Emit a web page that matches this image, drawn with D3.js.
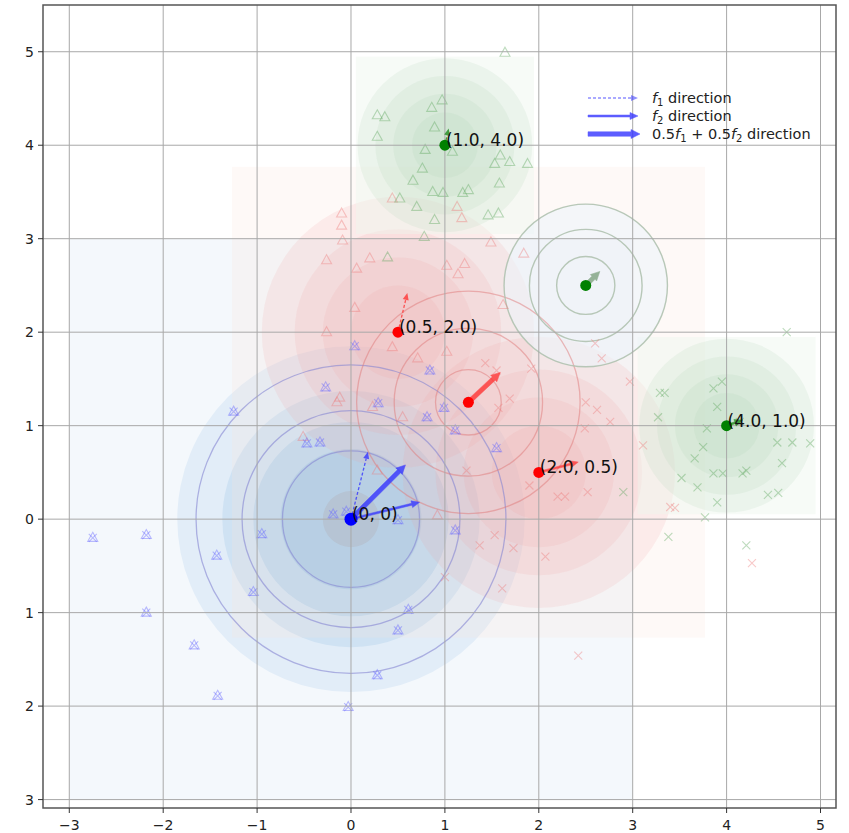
<!DOCTYPE html>
<html>
<head>
<meta charset="utf-8">
<script src="https://cdn.jsdelivr.net/npm/d3@7"></script>
<style>
  body { margin: 0; background: #fff; }
  text { font-family: "DejaVu Sans", sans-serif; }
</style>
</head>
<body>
<div id="chart"></div>
<script>
// ---- data ----
var xTicks = [-3, -2, -1, 0, 1, 2, 3, 4, 5];
var xTickLabels = ["\u22123", "\u22122", "\u22121", "0", "1", "2", "3", "4", "5"];
var yTicks = [-3, -2, -1, 0, 1, 2, 3, 4, 5];
var yTickLabels = ["3", "2", "1", "0", "1", "2", "3", "4", "5"]; // minus signs are missing in the picture

// labelled centres
var centres = [
  {x: 0, y: 0, label: "(0, 0)", cls: "blue"},
  {x: 0.5, y: 2.0, label: "(0.5, 2.0)", cls: "red"},
  {x: 2.0, y: 0.5, label: "(2.0, 0.5)", cls: "red"},
  {x: 1.0, y: 4.0, label: "(1.0, 4.0)", cls: "green"},
  {x: 4.0, y: 1.0, label: "(4.0, 1.0)", cls: "green"}
];
// midpoints (no label)
var mids = [
  {x: 1.25, y: 1.25, cls: "red"},
  {x: 2.5, y: 2.5, cls: "green"}
];

// filled density levels (radii) per component
var blueFillRadii = [1.85, 1.37, 1.04, 0.75, 0.3];
var redFillRadii = [1.45, 1.1, 0.8, 0.5];
var greenFillRadii = [0.93, 0.74, 0.55, 0.35];
var midFillRadii = [0.87];

// contour lines (radii)
var blueLineRadii = [0.73, 1.16, 1.65];
var redLineRadii = [0.35, 0.79, 1.19];
var greenLineRadii = [0.31, 0.6, 0.87];

// direction arrows [x0, y0, x1, y1]
var f1Arrows = [
  {cls: "blue", p: [0, 0, 0.18, 0.72]},
  {cls: "red", p: [0.5, 2.0, 0.6, 2.42]},
  {cls: "green", p: [1.0, 4.0, 1.04, 4.18]}
];
var f2Arrows = [
  {cls: "blue", p: [0, 0, 0.73, 0.18]},
  {cls: "red", p: [2.0, 0.5, 2.42, 0.61]},
  {cls: "green", p: [4.0, 1.0, 4.17, 1.06]}
];
var mixArrows = [
  {cls: "blue", p: [0, 0, 0.58, 0.58]},
  {cls: "red", p: [1.25, 1.25, 1.59, 1.57]},
  {cls: "greenmid", p: [2.5, 2.5, 2.65, 2.65]}
];

// scatter samples
var bluePts = [[-2.75,-0.2],[-2.18,-0.17],[-2.18,-1.0],[-1.67,-1.35],[-1.42,-1.89],[-1.43,-0.39],
  [-1.25,1.15],[-0.95,-0.16],[-1.04,-0.78],[-0.47,0.81],[-0.33,0.82],[-0.27,1.41],[0.04,1.85],
  [-0.19,0.05],[-0.05,0.08],[0.29,1.24],[0.5,-0.01],[0.84,1.59],[0.81,1.09],[0.99,1.19],
  [1.11,0.95],[1.55,0.76],[1.11,-0.12],[0.61,-0.97],[0.5,-1.19],[0.28,-1.67],[-0.03,-2.01]];
var redTri = [[-0.1,3.27],[-0.1,3.14],[-0.09,2.98],[-0.26,2.77],[0.06,2.68],[0.2,2.79],[0.44,3.43],
  [1.13,3.34],[1.18,3.22],[1.49,2.96],[1.84,2.84],[1.02,2.71],[1.21,2.73],[1.14,2.62],[0.04,2.26],
  [0.44,1.84],[1.02,1.79],[0.71,1.72],[1.62,2.29],[-0.26,2.0],[-0.15,1.25],[-0.12,1.3],[0.23,1.2],
  [0.55,1.09],[-0.51,0.88],[0.28,0.52],[0.92,0.04]];
var redX = [[1.43,1.67],[1.55,1.59],[1.92,1.61],[1.69,1.29],[1.57,1.19],[2.5,1.25],[2.62,1.17],
  [2.76,1.04],[2.49,0.97],[2.6,1.88],[2.67,1.72],[2.97,1.47],[3.11,0.79],[1.9,0.36],[2.2,0.24],
  [2.52,0.29],[2.28,0.24],[1.37,-0.28],[1.53,-0.17],[1.73,-0.31],[2.07,-0.4],[1.61,-0.74],
  [1.0,-0.62],[1.23,0.52],[2.42,-1.46],[3.4,0.13],[3.45,0.12],[4.27,-0.47]];
var greenTri = [[1.64,4.99],[0.28,4.32],[0.36,4.3],[0.86,4.4],[0.97,4.48],[0.89,4.19],[0.28,4.09],
  [0.79,3.95],[1.08,3.93],[1.59,3.89],[1.53,3.8],[1.69,3.82],[1.88,3.8],[0.76,3.75],[0.66,3.62],
  [1.58,3.59],[0.87,3.5],[0.98,3.49],[1.19,3.49],[1.25,3.52],[0.52,3.43],[0.7,3.34],[0.89,3.2],
  [1.46,3.25],[1.57,3.27],[0.78,3.02],[0.39,2.8]];
var greenX = [[4.64,2.0],[3.29,1.35],[3.34,1.35],[3.27,1.09],[3.86,1.4],[3.95,1.47],[3.9,1.2],
  [3.79,0.97],[3.75,0.77],[3.66,0.65],[4.14,1.04],[4.54,0.82],[4.7,0.82],[4.89,0.81],[4.59,0.6],
  [3.86,0.49],[3.96,0.49],[4.17,0.49],[4.21,0.52],[3.52,0.44],[3.69,0.34],[3.9,0.18],[4.44,0.26],
  [4.55,0.28],[3.77,0.02],[3.38,-0.19],[4.21,-0.28],[2.9,0.29]];

var legendItems = ["f1", "f2", "mix"];

// ---- drawing ----
var W = 849, H = 833;
var svg = d3.select("#chart").append("svg")
    .attr("width", W)
    .attr("height", H);

var x = d3.scaleLinear().domain([-3.28, 5.165]).range([43, 836]);
var y = d3.scaleLinear().domain([-3.09, 5.5]).range([808, 5]);
var rx = function(r) { return x(r) - x(0); };
var ry = function(r) { return y(0) - y(r); };

var colors = {
  blue: "#3535ff", red: "#ff3535", green: "#1f8a1f", greenmid: "#7fa37f"
};

svg.append("clipPath").attr("id", "plotclip")
  .append("rect").attr("x", 43).attr("y", 5).attr("width", 793).attr("height", 803);

var plot = svg.append("g").attr("clip-path", "url(#plotclip)");

function boxClip(id, x0, x1, y0, y1) {
  svg.append("clipPath").attr("id", id)
    .append("rect")
    .attr("x", x(x0)).attr("y", y(y1))
    .attr("width", x(x1) - x(x0)).attr("height", y(y0) - y(y1));
}
boxClip("bluebox", -3, 3, -3, 3);
boxClip("redbox", -1.27, 3.77, -1.27, 3.77);
boxClip("greenbox1", 0.05, 1.95, 3.05, 4.95);
boxClip("greenbox2", 3.05, 4.95, 0.05, 1.95);

function ellipse(g, cx, cy, r) {
  return g.append("ellipse")
    .attr("cx", x(cx)).attr("cy", y(cy))
    .attr("rx", rx(r)).attr("ry", ry(r));
}

// blue density
var gBlue = plot.append("g").attr("clip-path", "url(#bluebox)");
gBlue.append("rect").attr("x", x(-3)).attr("y", y(3))
  .attr("width", x(3) - x(-3)).attr("height", y(-3) - y(3)).attr("fill", "#f4f8fc");
var blueCols = ["#e2edf8", "#cfe2f3", "#bad6ed", "#a6cae7", "#a3bbd2"];
blueFillRadii.forEach(function(r, i) {
  ellipse(gBlue, 0, 0, r).attr("fill", blueCols[i]);
});

// red density
var gRed = plot.append("g").attr("clip-path", "url(#redbox)");
gRed.append("rect").attr("x", x(-1.27)).attr("y", y(3.77))
  .attr("width", x(3.77) - x(-1.27)).attr("height", y(-1.27) - y(3.77))
  .attr("fill", "#fbe3da").attr("opacity", 0.22);
[[0.5, 2.0], [2.0, 0.5]].forEach(function(c) {
  redFillRadii.forEach(function(r) {
    ellipse(gRed, c[0], c[1], r).attr("fill", "#f29a9a").attr("opacity", 0.14);
  });
});

// green density
[["greenbox1", 1.0, 4.0], ["greenbox2", 4.0, 1.0]].forEach(function(c) {
  var g = plot.append("g").attr("clip-path", "url(#" + c[0] + ")");
  g.append("rect").attr("x", x(c[1] - 0.95)).attr("y", y(c[2] + 0.95))
    .attr("width", rx(1.9)).attr("height", ry(1.9))
    .attr("fill", "#eef6ee").attr("opacity", 0.45);
  greenFillRadii.forEach(function(r) {
    ellipse(g, c[1], c[2], r).attr("fill", "#a9d2b0").attr("opacity", 0.15);
  });
});

// faint fill at the green midpoint
midFillRadii.forEach(function(r) {
  ellipse(plot, 2.5, 2.5, r).attr("fill", "#edf3fa").attr("opacity", 0.6);
});

// grid
var grid = svg.append("g");
grid.selectAll("line.gx").data(xTicks).enter().append("line")
  .attr("x1", function(d) { return x(d); }).attr("x2", function(d) { return x(d); })
  .attr("y1", 5).attr("y2", 808)
  .attr("stroke", "#a8a8a8").attr("stroke-width", 1);
grid.selectAll("line.gy").data(yTicks).enter().append("line")
  .attr("y1", function(d) { return y(d); }).attr("y2", function(d) { return y(d); })
  .attr("x1", 43).attr("x2", 836)
  .attr("stroke", "#a8a8a8").attr("stroke-width", 1);

// contour lines
blueLineRadii.forEach(function(r) {
  ellipse(plot, 0, 0, r).attr("fill", "none").attr("stroke", "#8585d2")
    .attr("stroke-opacity", 0.6).attr("stroke-width", 1.3);
});
redLineRadii.forEach(function(r) {
  ellipse(plot, 1.25, 1.25, r).attr("fill", "none").attr("stroke", "#e07a7a")
    .attr("stroke-opacity", 0.5).attr("stroke-width", 1.3);
});
greenLineRadii.forEach(function(r) {
  ellipse(plot, 2.5, 2.5, r).attr("fill", "none").attr("stroke", "#b0c2b0")
    .attr("stroke-opacity", 0.9).attr("stroke-width", 1.4);
});

// markers
var triPath = "M0,-5.5L5,3.5L-5,3.5Z";
var xPath = "M-4,-4L4,4M-4,4L4,-4";
function markers(pts, path, col, op) {
  plot.append("g").selectAll("path").data(pts).enter().append("path")
    .attr("d", path)
    .attr("transform", function(d) { return "translate(" + x(d[0]) + "," + y(d[1]) + ")"; })
    .attr("fill", "none").attr("stroke", col).attr("stroke-width", 1.1)
    .attr("stroke-opacity", op);
}
markers(redTri, triPath, "#ee7878", 0.4);
markers(redX, xPath, "#ee7878", 0.4);
markers(greenTri, triPath, "#5aa55a", 0.4);
markers(greenX, xPath, "#5aa55a", 0.4);
markers(bluePts, triPath, "#6a6aff", 0.45);
markers(bluePts, xPath, "#6a6aff", 0.45);

// arrows
function arrowShape(g, x0, y0, x1, y1, col, op, w, hl, hw, dashed) {
  var dx = x1 - x0, dy = y1 - y0;
  var len = Math.sqrt(dx * dx + dy * dy);
  var ux = dx / len, uy = dy / len, nx = -uy, ny = ux;
  var bx = x1 - ux * hl, by = y1 - uy * hl;
  if (dashed) {
    g.append("line").attr("x1", x0).attr("y1", y0).attr("x2", bx).attr("y2", by)
      .attr("stroke", col).attr("stroke-width", w).attr("stroke-dasharray", "3,2")
      .attr("opacity", op);
    g.append("path")
      .attr("d", "M" + (bx + nx * hw / 2) + "," + (by + ny * hw / 2) + "L" + x1 + "," + y1 +
        "L" + (bx - nx * hw / 2) + "," + (by - ny * hw / 2) + "Z")
      .attr("fill", col).attr("opacity", op);
    return;
  }
  var pts = [
    [x0 + nx * w / 2, y0 + ny * w / 2],
    [bx + nx * w / 2, by + ny * w / 2],
    [bx + nx * hw / 2, by + ny * hw / 2],
    [x1, y1],
    [bx - nx * hw / 2, by - ny * hw / 2],
    [bx - nx * w / 2, by - ny * w / 2],
    [x0 - nx * w / 2, y0 - ny * w / 2]
  ];
  g.append("path").attr("d", "M" + pts.join("L") + "Z")
    .attr("fill", col).attr("stroke", col).attr("stroke-width", 0.5).attr("opacity", op);
}
var gArr = svg.append("g");
f1Arrows.forEach(function(a) {
  arrowShape(gArr, x(a.p[0]), y(a.p[1]), x(a.p[2]), y(a.p[3]), colors[a.cls], 0.8, 1.3, 7, 6, true);
});
f2Arrows.forEach(function(a) {
  arrowShape(gArr, x(a.p[0]), y(a.p[1]), x(a.p[2]), y(a.p[3]), colors[a.cls], 0.8, 2, 8, 7, false);
});
mixArrows.forEach(function(a) {
  arrowShape(gArr, x(a.p[0]), y(a.p[1]), x(a.p[2]), y(a.p[3]), colors[a.cls], 0.8, 4.5, 9, 9, false);
});

// centre dots and labels
var dotCol = {blue: "#0000ff", red: "#ff0000", green: "#008000"};
svg.append("g").selectAll("circle").data(centres.concat(mids)).enter().append("circle")
  .attr("cx", function(d) { return x(d.x); }).attr("cy", function(d) { return y(d.y); })
  .attr("r", function(d) { return d.cls === "blue" ? 6.5 : 5.5; })
  .attr("fill", function(d) { return dotCol[d.cls]; });
svg.append("g").selectAll("text").data(centres).enter().append("text")
  .attr("x", function(d) { return x(d.x) + 1; }).attr("y", function(d) { return y(d.y) + 1; })
  .attr("font-size", 17).attr("fill", "#111")
  .text(function(d) { return d.label; });

// spines
svg.append("rect").attr("x", 43).attr("y", 5).attr("width", 793).attr("height", 803)
  .attr("fill", "none").attr("stroke", "#555").attr("stroke-width", 1.5);

// ticks
var axX = svg.append("g");
xTicks.forEach(function(t, i) {
  axX.append("line").attr("x1", x(t)).attr("x2", x(t)).attr("y1", 808).attr("y2", 813)
    .attr("stroke", "#333").attr("stroke-width", 1);
  axX.append("text").attr("x", x(t)).attr("y", 830).attr("text-anchor", "middle")
    .attr("font-size", 14).attr("fill", "#222").text(xTickLabels[i]);
});
var axY = svg.append("g");
yTicks.forEach(function(t, i) {
  axY.append("line").attr("x1", 38).attr("x2", 43).attr("y1", y(t)).attr("y2", y(t))
    .attr("stroke", "#333").attr("stroke-width", 1);
  axY.append("text").attr("x", 34).attr("y", y(t) + 5).attr("text-anchor", "end")
    .attr("font-size", 14).attr("fill", "#222").text(yTickLabels[i]);
});

// legend
var leg = svg.append("g");
var legY = [98, 116, 134];
legendItems.forEach(function(k, i) {
  var yy = legY[i];
  if (k === "f1") arrowShape(leg, 588, yy, 638, yy, "#3535ff", 0.55, 1.3, 7, 6, true);
  if (k === "f2") arrowShape(leg, 588, yy, 638, yy, "#3535ff", 0.8, 2, 8, 7, false);
  if (k === "mix") arrowShape(leg, 588, yy, 640, yy, "#3535ff", 0.8, 4.5, 9, 9, false);
  var t = leg.append("text").attr("x", 652).attr("y", yy + 5).attr("font-size", 14.5).attr("fill", "#222");
  if (k === "f1" || k === "f2") {
    t.append("tspan").attr("font-style", "italic").text("f");
    t.append("tspan").attr("font-size", 10).attr("dy", 3).text(k === "f1" ? "1" : "2");
    t.append("tspan").attr("dy", -3).text(" direction");
  } else {
    t.append("tspan").text("0.5");
    t.append("tspan").attr("font-style", "italic").text("f");
    t.append("tspan").attr("font-size", 10).attr("dy", 3).text("1");
    t.append("tspan").attr("dy", -3).text(" + 0.5");
    t.append("tspan").attr("font-style", "italic").text("f");
    t.append("tspan").attr("font-size", 10).attr("dy", 3).text("2");
    t.append("tspan").attr("dy", -3).text(" direction");
  }
});
</script>
</body>
</html>
